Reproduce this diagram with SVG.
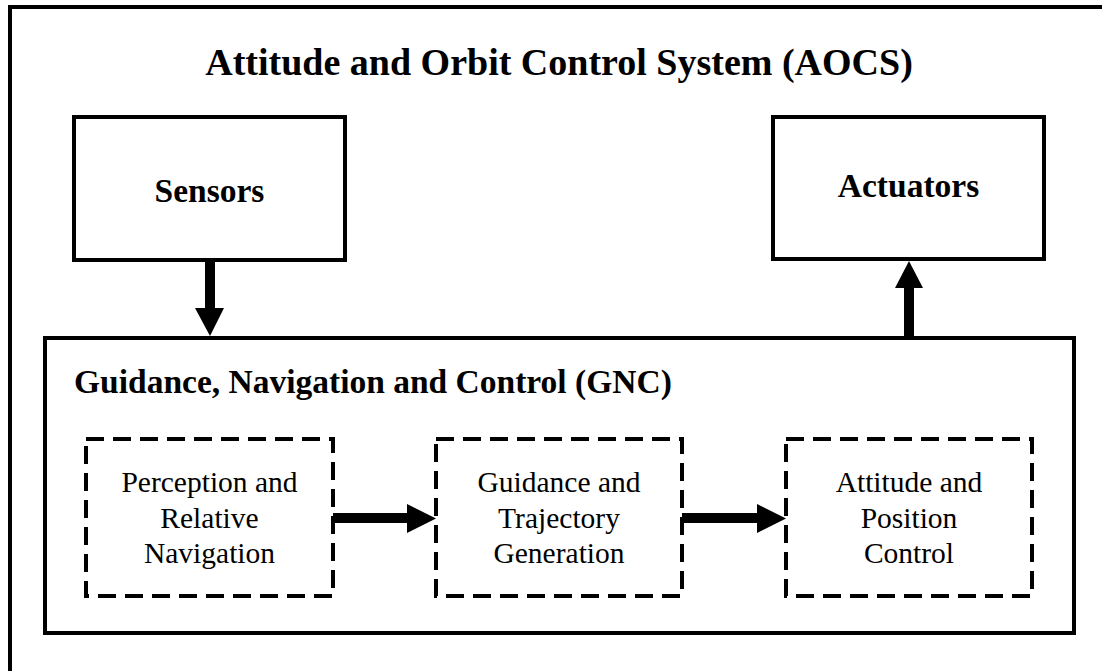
<svg xmlns="http://www.w3.org/2000/svg" width="1102" height="671" viewBox="0 0 1102 671">
  <style>
    .frame { fill: #fff; stroke: #000; stroke-width: 4; }
    .dash { fill: none; stroke: #000; stroke-width: 4; stroke-dasharray: 18 9; }
    .bold { font-family: "Liberation Serif", "Times New Roman", serif; font-weight: bold; fill: #000; }
    .reg { font-family: "Liberation Serif", "Times New Roman", serif; font-size: 29.5px; fill: #000; text-anchor: middle; }
    .shaft { stroke: #000; stroke-width: 10; }
    .head { fill: #000; }
  </style>
  <rect width="1102" height="671" fill="#fff"/>

  <!-- outer AOCS frame -->
  <g id="aocs">
    <rect class="frame" x="10" y="7" width="1110" height="680"/>
    <text class="bold" x="559" y="75" font-size="38" text-anchor="middle">Attitude and Orbit Control System (AOCS)</text>
  </g>

  <g id="sensors">
    <rect class="frame" x="74" y="117" width="271" height="143"/>
    <text class="bold" x="209.5" y="202" font-size="33.5" text-anchor="middle">Sensors</text>
  </g>

  <g id="actuators">
    <rect class="frame" x="773" y="117" width="271" height="142"/>
    <text class="bold" x="908.5" y="197" font-size="33.5" text-anchor="middle">Actuators</text>
  </g>

  <g id="gnc">
    <rect class="frame" x="45" y="338" width="1029" height="295"/>
    <text class="bold" x="74" y="393" font-size="33.5">Guidance, Navigation and Control (GNC)</text>
  </g>

  <g id="perception">
    <rect class="dash" x="86" y="439" width="247" height="157"/>
    <text class="reg" x="209.5" y="492">Perception and</text>
    <text class="reg" x="209.5" y="528">Relative</text>
    <text class="reg" x="209.5" y="563">Navigation</text>
  </g>

  <g id="guidance">
    <rect class="dash" x="436" y="439" width="246" height="157"/>
    <text class="reg" x="559" y="492">Guidance and</text>
    <text class="reg" x="559" y="528">Trajectory</text>
    <text class="reg" x="559" y="563">Generation</text>
  </g>

  <g id="control">
    <rect class="dash" x="786" y="439" width="246" height="157"/>
    <text class="reg" x="909" y="492">Attitude and</text>
    <text class="reg" x="909" y="528">Position</text>
    <text class="reg" x="909" y="563">Control</text>
  </g>

  <!-- connectors: thick shafts with solid triangular heads -->
  <g id="connectors">
    <line class="shaft" x1="210" y1="260" x2="210" y2="309"/>
    <polygon class="head" points="195,308 224,308 210,336"/>

    <line class="shaft" x1="909" y1="338" x2="909" y2="287"/>
    <polygon class="head" points="895,288 923,288 909,261"/>

    <line class="shaft" x1="333" y1="518" x2="408" y2="518"/>
    <polygon class="head" points="407,504 407,533 436,518.5"/>

    <line class="shaft" x1="682" y1="518" x2="758" y2="518"/>
    <polygon class="head" points="757,504 757,533 786,518.5"/>
  </g>
</svg>
